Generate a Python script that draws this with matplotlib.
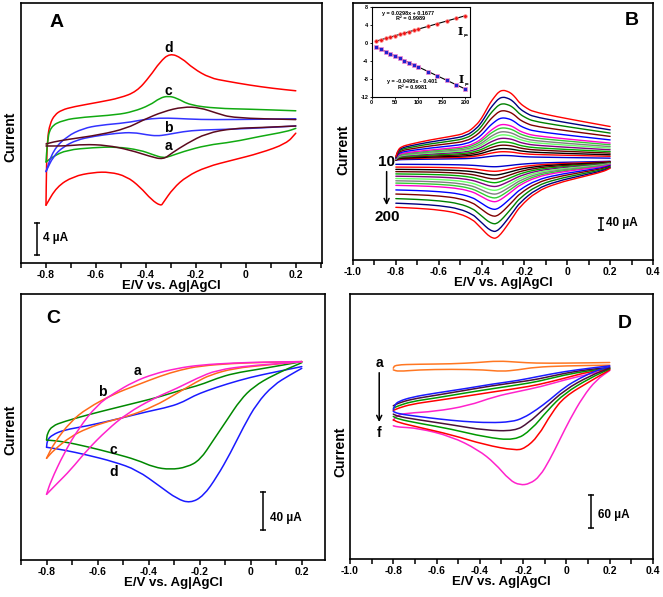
import numpy as np
import matplotlib
matplotlib.use("Agg")
import matplotlib.pyplot as plt
from matplotlib.ticker import MultipleLocator, FuncFormatter
from matplotlib.path import Path
from matplotlib.patches import PathPatch

plt.rcParams['font.family'] = ['Liberation Sans', 'DejaVu Sans']
plt.rcParams['font.weight'] = 'bold'
plt.rcParams['axes.unicode_minus'] = False

# ---------------- panel A (E in V, I in uA) ----------------
A_a_up_E = [-0.8, -0.771, -0.717, -0.584, -0.477, -0.411, -0.331, -0.251, -0.184, -0.117, -0.051, 0.2]
A_a_up_I = [0.75, 1.0, 1.3, 1.9, 2.7, 3.75, 4.8, 5.4, 5.3, 4.6, 4.0, 3.8]
A_a_lo_E = [0.2, 0.056, -0.051, -0.157, -0.237, -0.297, -0.331, -0.384, -0.464, -0.557, -0.651, -0.717, -0.8]
A_a_lo_I = [3.0, 2.8, 2.7, 2.1, 0.8, -0.4, -1.2, -0.8, 0.0, 0.6, 0.7, 0.5, 0.5]

A_b_up_E = [-0.8, -0.771, -0.717, -0.651, -0.584, -0.477, -0.411, -0.344, -0.277, -0.184, -0.051, 0.2]
A_b_up_I = [-2.7, 0.0, 1.7, 2.7, 3.1, 3.4, 3.8, 4.0, 3.95, 3.8, 3.8, 3.9]
A_b_lo_E = [0.2, 0.083, -0.051, -0.184, -0.251, -0.317, -0.357, -0.397, -0.451, -0.517, -0.611, -0.677, -0.731, -0.771, -0.8]
A_b_lo_I = [3.0, 2.8, 2.6, 2.5, 2.3, 1.9, 1.75, 1.9, 2.2, 2.1, 1.7, 1.25, 0.4, -0.8, -2.7]

A_c_up_E = [-0.8, -0.795, -0.784, -0.731, -0.651, -0.517, -0.451, -0.384, -0.344, -0.311, -0.277, -0.224, -0.117, 0.016, 0.2]
A_c_up_I = [-1.5, 0.8, 2.9, 3.75, 4.1, 4.4, 4.8, 5.6, 6.5, 6.75, 6.5, 5.6, 5.2, 5.1, 4.9]
A_c_lo_E = [0.2, 0.163, 0.056, -0.051, -0.157, -0.251, -0.304, -0.331, -0.371, -0.424, -0.517, -0.611, -0.717, -0.771, -0.8]
A_c_lo_I = [2.7, 2.3, 1.7, 1.0, 0.6, -0.2, -0.8, -1.0, -0.6, 0.0, 0.4, 0.3, 0.0, -0.8, -1.5]

A_d_up_E = [-0.8, -0.798, -0.794, -0.784, -0.765, -0.737, -0.691, -0.584, -0.504, -0.437, -0.384,
            -0.344, -0.304, -0.257, -0.211, -0.144, -0.077, 0.016, 0.109, 0.2]
A_d_up_I = [-6.9, -2.0, 1.5, 3.3, 4.4, 5.0, 5.4, 6.0, 6.5, 7.3, 9.2, 11.0, 12.1, 11.5, 10.2, 9.0, 8.6, 8.1, 7.7, 7.4]
A_d_lo_E = [0.2, 0.163, 0.056, -0.051, -0.157, -0.237, -0.291, -0.331, -0.34, -0.377, -0.424, -0.477,
            -0.544, -0.611, -0.691, -0.757, -0.8]
A_d_lo_I = [2.1, 0.8, -0.4, -1.25, -2.1, -3.3, -4.8, -6.6, -7.0, -6.25, -4.6, -3.3, -2.75, -2.8, -3.3, -4.6, -6.9]

# ---------------- panel B: 200 mV/s curve + inset peak currents ----------------
B_up_E = [-0.8, -0.79, -0.774, -0.736, -0.642, -0.549, -0.471, -0.424, -0.40, -0.378, -0.36, -0.339,
          -0.32, -0.30, -0.28, -0.261, -0.24, -0.222, -0.19, -0.16, -0.051, 0.073, 0.2]
B_up_I = [13.7, 36.6, 48, 56, 70.9, 82.3, 93.7, 122, 145, 174, 198, 219, 236, 242, 238, 231, 215,
          197, 180, 168, 151, 134, 117]
B_lo_E = [0.2, 0.167, 0.073, -0.051, -0.144, -0.222, -0.25, -0.284, -0.31, -0.331, -0.347, -0.37,
          -0.393, -0.42, -0.44, -0.502, -0.595, -0.704, -0.8]
B_lo_I = [-26, -38, -55, -78, -106, -158, -190, -226, -252, -266, -266, -256, -238, -218, -203,
          -181, -169, -163, -160]

scan_rate = [10, 20, 30, 40, 50, 60, 70, 80, 90, 100, 120, 140, 160, 180, 200]
ipa = [0.45, 0.78, 1.05, 1.35, 1.63, 1.95, 2.25, 2.52, 2.85, 3.15, 3.72, 4.35, 4.95, 5.52, 6.12]
ipc = [-0.8, -1.4, -1.9, -2.4, -2.9, -3.4, -3.9, -4.4, -4.9, -5.4, -6.4, -7.3, -8.3, -9.3, -10.2]
B_colors = ['#0000cc', '#ff0000', '#000000', '#660000', '#00aa00', '#800080', '#66ff66', '#808080',
            '#33cc33', '#ff00cc', '#0000ff', '#800000', '#008000', '#000080', '#ff0000']

# ---------------- panel C ----------------
C_a_up_E = [-0.8, -0.784, -0.732, -0.674, -0.602, -0.537, -0.458, -0.380, -0.289, -0.198, -0.067, 0.063, 0.2]
C_a_up_I = [-46.3, -33.0, -3.5, 22.6, 47.0, 59.1, 71.3, 79.3, 85.2, 88.7, 90.8, 91.8, 92.2]
C_a_lo_E = [0.2, 0.128, -0.002, -0.132, -0.211, -0.289, -0.380, -0.484, -0.563, -0.641, -0.706, -0.758, -0.8]
C_a_lo_I = [92.2, 90.4, 88.0, 83.5, 74.8, 64.3, 53.9, 38.3, 20.9, 0.0, -20.9, -34.8, -46.3]

C_b_up_E = [-0.8, -0.771, -0.706, -0.641, -0.537, -0.445, -0.354, -0.276, -0.198, -0.067, 0.063, 0.2]
C_b_up_I = [-8.7, 7.0, 29.6, 43.5, 58.4, 67.8, 77.2, 83.5, 87.7, 90.4, 91.5, 92.2]
C_b_lo_E = [0.2, 0.063, -0.067, -0.159, -0.211, -0.289, -0.380, -0.484, -0.563, -0.641, -0.706, -0.771, -0.8]
C_b_lo_I = [92.2, 88.7, 85.2, 78.3, 71.3, 59.1, 45.2, 34.8, 29.6, 22.6, 13.9, 0.0, -8.7]

C_c_up_E = [-0.8, -0.797, -0.778, -0.732, -0.641, -0.537, -0.432, -0.354, -0.263, -0.198, -0.132, -0.067, 0.037, 0.128, 0.2]
C_c_up_I = [10.4, 17.4, 25.0, 29.6, 36.5, 43.5, 50.4, 55.7, 63.3, 67.8, 74.8, 80.0, 84.5, 88.7, 92.2]
C_c_lo_E = [0.2, 0.089, 0.011, -0.041, -0.093, -0.146, -0.198, -0.250, -0.315, -0.380, -0.445, -0.537, -0.641, -0.732, -0.8]
C_c_lo_I = [91.1, 78.3, 66.1, 52.2, 31.3, 10.4, -10.4, -18.0, -20.5, -18.0, -10.4, -3.5, 3.5, 8.7, 10.4]

C_d_up_E = [-0.8, -0.797, -0.778, -0.732, -0.641, -0.511, -0.406, -0.315, -0.263, -0.224, -0.172, -0.093, -0.002, 0.089, 0.2]
C_d_up_I = [2.8, 10.4, 15.7, 20.9, 25.0, 33.0, 40.0, 45.2, 50.4, 56.3, 61.9, 68.9, 75.8, 81.0, 87.0]
C_d_lo_E = [0.2, 0.154, 0.089, 0.024, -0.028, -0.080, -0.132, -0.185, -0.237, -0.289, -0.354, -0.445, -0.537, -0.641, -0.732, -0.8]
C_d_lo_I = [85.2, 78.3, 67.8, 48.7, 24.3, -3.5, -27.8, -48.0, -55.5, -51.0, -38.3, -20.9, -12.2, -5.2, 0.0, 2.8]

# ---------------- panel D ----------------
D_a_up_E = [-0.8, -0.792, -0.685, -0.531, -0.408, -0.315, -0.223, -0.146, -0.008, 0.2]
D_a_up_I = [58.2, 64.3, 65.5, 66.1, 68.6, 71.6, 69.2, 67.4, 67.4, 68.6]
D_a_lo_E = [0.2, -0.008, -0.146, -0.223, -0.3, -0.377, -0.531, -0.685, -0.777, -0.8]
D_a_lo_I = [63.7, 62.5, 60.0, 55.1, 52.1, 55.1, 56.3, 55.1, 52.1, 55.1]

D_b_up_E = [-0.8, -0.792, -0.777, -0.715, -0.608, -0.454, -0.346, -0.223, -0.131, -0.008, 0.108, 0.2]
D_b_up_I = [-18.4, -9.2, -3.1, 4.9, 12.2, 21.4, 28.8, 35.5, 42.9, 52.1, 58.2, 62.5]
D_b_lo_E = [0.2, 0.138, 0.062, -0.008, -0.077, -0.138, -0.2, -0.254, -0.354, -0.477, -0.585, -0.685, -0.777, -0.8]
D_b_lo_I = [61.2, 53.9, 39.8, 23.3, 0.0, -18.4, -33.7, -40.5, -42.3, -39.8, -35.5, -30.6, -25.7, -21.4]

D_c_up_E = [-0.8, -0.777, -0.715, -0.608, -0.454, -0.346, -0.223, -0.131, -0.008, 0.108, 0.2]
D_c_up_I = [-11.0, -6.1, 1.2, 8.0, 18.4, 25.7, 32.5, 38.0, 49.0, 56.3, 59.4]
D_c_lo_E = [0.2, 0.108, -0.008, -0.1, -0.177, -0.238, -0.377, -0.531, -0.685, -0.777, -0.8]
D_c_lo_I = [58.2, 44.1, 18.4, -15.3, -42.9, -57.5, -56.0, -45.9, -36.7, -30.6, -26.3]

D_d_up_E = [-0.8, -0.777, -0.715, -0.608, -0.454, -0.346, -0.223, -0.131, -0.008, 0.108, 0.2]
D_d_up_I = [-15.3, -11.0, -3.1, 3.1, 13.5, 20.2, 27.6, 33.7, 45.9, 53.9, 58.2]
D_d_lo_E = [0.2, 0.108, -0.008, -0.085, -0.162, -0.238, -0.377, -0.531, -0.685, -0.777, -0.8]
D_d_lo_I = [57.0, 39.8, 12.2, -18.4, -55.1, -75.0, -68.5, -53.9, -42.9, -35.5, -30.6]

D_e_up_E = [-0.8, -0.777, -0.715, -0.608, -0.454, -0.346, -0.223, -0.131, -0.008, 0.108, 0.2]
D_e_up_I = [-19.6, -15.3, -8.0, -1.8, 7.3, 14.1, 21.4, 27.6, 39.8, 52.1, 56.3]
D_e_lo_E = [0.2, 0.108, -0.008, -0.069, -0.131, -0.192, -0.238, -0.377, -0.531, -0.685, -0.777, -0.8]
D_e_lo_I = [55.1, 33.7, 6.1, -24.5, -67.4, -89.5, -93.0, -82.7, -64.3, -50.2, -41.6, -36.7]

D_f_up_E = [-0.8, -0.785, -0.738, -0.608, -0.454, -0.331, -0.223, -0.115, -0.008, 0.108, 0.2]
D_f_up_I = [-38.0, -28.8, -24.5, -21.4, -11.0, 6.1, 15.3, 24.5, 36.7, 47.8, 55.1]
D_f_lo_E = [0.2, 0.138, 0.077, 0.015, -0.031, -0.077, -0.123, -0.169, -0.215, -0.262, -0.331, -0.408, -0.531, -0.685, -0.777, -0.8]
D_f_lo_I = [53.9, 36.7, 6.1, -36.7, -73.5, -110.2, -140.9, -154.5, -157.0, -148.0, -116.4, -91.9, -67.4, -52.1, -50.2, -47.8]


def fmt(v, pos):
    if abs(v) < 1e-9:
        return '0'
    return '%.1f' % v


def style_ax(ax, xmin, xmax, ylim, ylab_x, ylab_y):
    ax.set_xlim(xmin, xmax)
    ax.set_ylim(*ylim)
    ax.xaxis.set_major_locator(MultipleLocator(0.2))
    ax.xaxis.set_minor_locator(MultipleLocator(0.1))
    ax.xaxis.set_major_formatter(FuncFormatter(fmt))
    ax.tick_params(axis='x', which='both', direction='out', length=3.5, width=1.1,
                   top=False, labelsize=7.5, pad=1.5)
    ax.set_yticks([])
    for s in ax.spines.values():
        s.set_linewidth(1.2)
    ax.set_xlabel('E/V vs. Ag|AgCl', fontsize=9.5, fontweight='bold', labelpad=0)
    ax.set_ylabel('Current', fontsize=10, fontweight='bold')
    ax.yaxis.set_label_coords(ylab_x, ylab_y)


def smooth(ax, E, I, color, lw):
    # quadratic bezier through the midpoints of the read points (smoothed line like the original)
    pts = np.column_stack([np.asarray(E, float), np.asarray(I, float)])
    verts = [pts[0], (pts[0] + pts[1]) / 2]
    codes = [Path.MOVETO, Path.LINETO]
    for k in range(1, len(pts) - 1):
        verts += [pts[k], (pts[k] + pts[k + 1]) / 2]
        codes += [Path.CURVE3, Path.CURVE3]
    verts.append(pts[-1])
    codes.append(Path.LINETO)
    ax.add_patch(PathPatch(Path(verts, codes), fill=False, edgecolor=color, lw=lw,
                           joinstyle='round', capstyle='round'))


def cv(ax, lo_E, lo_I, up_E, up_I, color, lw=1.1):
    smooth(ax, lo_E, lo_I, color, lw)
    smooth(ax, up_E, up_I, color, lw)


def scalebar(ax, x, y0, y1, text, tx, ty):
    ax.plot([x, x], [y0, y1], color='k', lw=1.1)
    ax.plot([x, x], [y0, y1], ls='none', marker='_', ms=5, mew=1.1, color='k')
    ax.text(tx, ty, text, fontsize=8.5, fontweight='bold', va='center', ha='left')


fig = plt.figure(figsize=(6.63, 5.97), dpi=100)

# ---------- A ----------
axA = fig.add_axes([0.0317, 0.5595, 0.454, 0.4355])
cv(axA, A_d_lo_E, A_d_lo_I, A_d_up_E, A_d_up_I, '#ff0000')
cv(axA, A_c_lo_E, A_c_lo_I, A_c_up_E, A_c_up_I, '#11aa11')
cv(axA, A_b_lo_E, A_b_lo_I, A_b_up_E, A_b_up_I, '#3333ff')
cv(axA, A_a_lo_E, A_a_lo_I, A_a_up_E, A_a_up_I, '#5c0a1e')
style_ax(axA, -0.9, 0.305, (-14.125, 18.375), -0.013, 0.485)
axA.text(-0.756, 15.9, 'A', fontsize=14, fontweight='bold', ha='center', va='center')
for lab, x, y in [('d', -0.307, 12.75), ('c', -0.311, 7.4), ('b', -0.311, 2.75), ('a', -0.311, 0.5)]:
    axA.text(x, y, lab, fontsize=10, fontweight='bold', ha='center', va='center')
scalebar(axA, -0.836, -9.125, -13.125, '4 µA', -0.813, -11.0)

# ---------- B ----------
axB = fig.add_axes([0.5324, 0.5645, 0.4525, 0.4305])
up200 = np.array(B_up_I, dtype=float)
lo200 = np.array(B_lo_I, dtype=float)
for k in range(len(scan_rate)):
    cv(axB, B_lo_E, lo200 * ipc[k] / ipc[-1], B_up_E, up200 * ipa[k] / ipa[-1], B_colors[k], lw=1.0)
style_ax(axB, -1.0, 0.4, (-340.6, 540.6), -0.01, 0.43)
axB.text(0.299, 480, 'B', fontsize=14, fontweight='bold', ha='center', va='center')
axB.text(-0.845, -5, '10', fontsize=11, fontweight='bold', ha='center', va='center')
axB.text(-0.841, -194, '200', fontsize=11, fontweight='bold', ha='center', va='center')
axB.annotate('', xy=(-0.843, -162), xytext=(-0.843, -28),
             arrowprops=dict(arrowstyle='->', lw=1.1, color='k', mutation_scale=9))
scalebar(axB, 0.159, -197.7, -237.7, '40 µA', 0.183, -214)

# inset
axI = fig.add_axes([0.5606, 0.838, 0.1483, 0.1497])
sr = np.array(scan_rate, dtype=float)
pa = np.polyfit(sr, ipa, 1)
pc = np.polyfit(sr, ipc, 1)
axI.plot(sr, np.polyval(pa, sr), color='k', lw=0.8)
axI.plot(sr, np.polyval(pc, sr), color='k', lw=0.8)
axI.plot(sr, ipa, ls='none', marker='o', ms=2.6, mfc='#ee1111', mec='#ff8888', mew=0.5)
axI.plot(sr, ipc, ls='none', marker='s', ms=2.4, mfc='#2222cc', mec='#ff88cc', mew=0.5)
axI.set_xlim(0, 210)
axI.set_ylim(-12, 8)
axI.set_xticks([0, 50, 100, 150, 200])
axI.set_yticks([-12, -8, -4, 0, 4, 8])
axI.tick_params(labelsize=4, length=1.5, width=0.6, pad=1)
for s in axI.spines.values():
    s.set_linewidth(0.8)
axI.text(77, 6.7, 'y = 0.0298x + 0.1677', fontsize=4, ha='center', va='center')
axI.text(82, 5.4, 'R² = 0.9989', fontsize=4, ha='center', va='center')
axI.text(86, -8.7, 'y = -0.0495x - 0.401', fontsize=4, ha='center', va='center')
axI.text(88, -9.9, 'R² = 0.9981', fontsize=4, ha='center', va='center')
axI.text(190, 2.6, 'I', fontsize=8, ha='center', va='center', family='DejaVu Serif')
axI.text(196, 1.7, 'pa', fontsize=3, ha='left', va='center')
axI.text(192, -8.2, 'I', fontsize=8, ha='center', va='center', family='DejaVu Serif')
axI.text(198, -9.1, 'pc', fontsize=3, ha='left', va='center')

# ---------- C ----------
axC = fig.add_axes([0.0317, 0.0620, 0.4585, 0.4456])
cv(axC, C_d_lo_E, C_d_lo_I, C_d_up_E, C_d_up_I, '#1a1aff')
cv(axC, C_c_lo_E, C_c_lo_I, C_c_up_E, C_c_up_I, '#008800')
cv(axC, C_b_lo_E, C_b_lo_I, C_b_up_E, C_b_up_I, '#ff6a1a')
cv(axC, C_a_lo_E, C_a_lo_I, C_a_up_E, C_a_up_I, '#ff22cc')
style_ax(axC, -0.9, 0.291, (-114.8, 162.8), -0.013, 0.49)
axC.text(-0.774, 137.4, 'C', fontsize=14, fontweight='bold', ha='center', va='center')
for lab, x, y in [('a', -0.445, 82.5), ('b', -0.582, 60.9), ('c', -0.537, 0.0), ('d', -0.537, -22.6)]:
    axC.text(x, y, lab, fontsize=10, fontweight='bold', ha='center', va='center')
scalebar(axC, 0.05, -43.5, -83.5, '40 µA', 0.076, -71.3)

# ---------- D ----------
axD = fig.add_axes([0.5279, 0.0637, 0.457, 0.4439])
cv(axD, D_a_lo_E, D_a_lo_I, D_a_up_E, D_a_up_I, '#ff7722')
cv(axD, D_f_lo_E, D_f_lo_I, D_f_up_E, D_f_up_I, '#ff22cc')
cv(axD, D_e_lo_E, D_e_lo_I, D_e_up_E, D_e_up_I, '#ff0000')
cv(axD, D_d_lo_E, D_d_lo_I, D_d_up_E, D_d_up_I, '#009900')
cv(axD, D_c_lo_E, D_c_lo_I, D_c_up_E, D_c_up_I, '#4a1038')
cv(axD, D_b_lo_E, D_b_lo_I, D_b_up_E, D_b_up_I, '#1a1aff')
style_ax(axD, -1.0, 0.4, (-292.7, 194.7), -0.01, 0.405)
axD.text(0.269, 140.9, 'D', fontsize=14, fontweight='bold', ha='center', va='center')
axD.text(-0.865, 67.4, 'a', fontsize=10, fontweight='bold', ha='center', va='center')
axD.text(-0.865, -61.2, 'f', fontsize=10, fontweight='bold', ha='center', va='center')
axD.annotate('', xy=(-0.865, -46), xytext=(-0.865, 55),
             arrowprops=dict(arrowstyle='->', lw=1.1, color='k', mutation_scale=9))
scalebar(axD, 0.115, -175.7, -235.7, '60 µA', 0.146, -211.3)

fig.savefig('out.png', dpi=100)
